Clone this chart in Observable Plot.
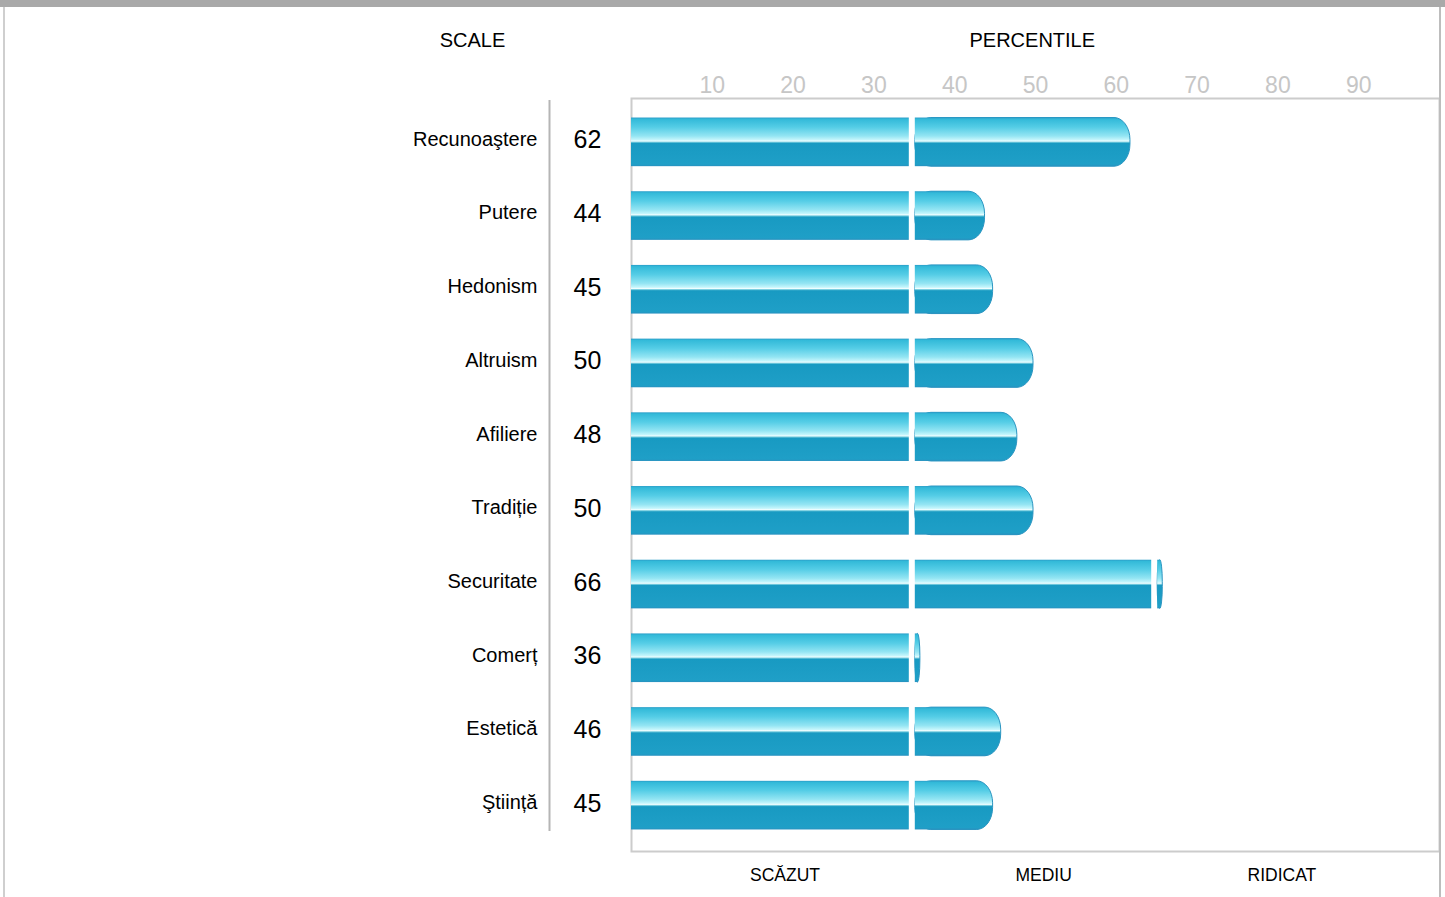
<!DOCTYPE html>
<html>
<head>
<meta charset="utf-8">
<script src="https://cdn.jsdelivr.net/npm/d3@7"></script>
<script src="https://cdn.jsdelivr.net/npm/@observablehq/plot@0.6"></script>
<style>
  html, body { margin: 0; padding: 0; background: #fff; }
  body { width: 1445px; height: 897px; position: relative; overflow: hidden; font-family: "Liberation Sans", Arial, Helvetica, sans-serif; }
  #chart { position: absolute; left: 0; top: 0; }
  .frame-top { position: absolute; left: 0; top: 0; width: 1445px; height: 7px; background: #a9a9a9; }
  .frame-left { position: absolute; left: 3px; top: 7px; width: 2px; height: 890px; background: #cfcfcf; }
  .frame-right { position: absolute; left: 1439px; top: 7px; width: 2px; height: 890px; background: #bdbdbd; }
</style>
</head>
<body>
<div id="chart"></div>
<div class="frame-top"></div>
<div class="frame-left"></div>
<div class="frame-right"></div>
<script>
// ---- data ----
const categories = ["Recunoaştere", "Putere", "Hedonism", "Altruism", "Afiliere", "Tradiție", "Securitate", "Comerț", "Estetică", "Ştiință"];
const percentiles = [62, 44, 45, 50, 48, 50, 66, 36, 46, 45];
const zoneBreaks = [0, 35, 65, 100];
const tickValues = [10, 20, 30, 40, 50, 60, 70, 80, 90];
const zoneLabels = ["SCĂZUT", "MEDIU", "RIDICAT"];
const zoneLabelCenters = [19, 51, 80.5];
const headerScale = "SCALE";
const headerPercentile = "PERCENTILE";

// ---- derived tables ----
const rows = categories.map((c, i) => ({cat: c, v: percentiles[i]}));
const segs = [];
rows.forEach(r => {
  for (let i = 0; i < zoneBreaks.length - 1; i++) {
    const s = zoneBreaks[i];
    const e = Math.min(r.v, zoneBreaks[i + 1]);
    if (e > s) segs.push({cat: r.cat, s, e, last: r.v <= zoneBreaks[i + 1]});
  }
});
const capUnits = 2;
const GRAD = "url(#barGrad)";

function segMarks(list, insetLeft) {
  const plain = list.filter(d => !d.last);
  const last = list.filter(d => d.last);
  return [
    Plot.barX(plain, {x1: "s", x2: "e", y: "cat", fill: GRAD, insetLeft, insetRight: 5}),
    Plot.barX(last, {x1: "s", x2: "e", y: "cat", fill: GRAD, stroke: "#2b95c1", strokeWidth: 1, rx: 16, ry: 22, insetLeft, insetRight: 2}),
    Plot.barX(last, {x1: "s", x2: d => Math.max((d.s + d.e) / 2, d.e - capUnits), y: "cat", fill: GRAD, insetLeft, insetRight: 0})
  ];
}

const font = "'Liberation Sans', Arial, Helvetica, sans-serif";

const chart = Plot.plot({
  width: 1445,
  height: 897,
  marginLeft: 631,
  marginRight: 6,
  marginTop: 98,
  marginBottom: 46,
  style: {fontFamily: font, background: "transparent"},
  x: {domain: [0, 100], axis: null},
  y: {domain: categories, range: [105, 842], paddingInner: 0.34, paddingOuter: 0.17, round: false, axis: null},
  marks: [
    Plot.frame({stroke: "#cccccc", strokeWidth: 2}),
    // tick labels (top)
    Plot.text(tickValues, {x: d => d, text: d => String(d), frameAnchor: "top", lineAnchor: "middle", dy: -13, fill: "#c6c6c6", fontSize: 23}),
    // headers
    Plot.text([headerPercentile], {x: 49.6, text: d => d, frameAnchor: "top", lineAnchor: "middle", textAnchor: "middle", dy: -58, fill: "#000", fontSize: 20}),
    Plot.text([headerScale], {text: d => d, frameAnchor: "top-left", lineAnchor: "middle", textAnchor: "middle", dx: -159, dy: -58, fill: "#000", fontSize: 20}),
    // separator line between labels and values
    Plot.ruleX([0], {dx: -82, stroke: "#b5b5b5", strokeWidth: 2, insetTop: 2, insetBottom: 20}),
    // category labels
    Plot.text(rows, {y: "cat", text: "cat", frameAnchor: "left", lineAnchor: "middle", dx: -94, dy: -3, textAnchor: "end", fill: "#000", fontSize: 20}),
    // values
    Plot.text(rows, {y: "cat", text: d => String(d.v), frameAnchor: "left", lineAnchor: "middle", dx: -44, dy: -2, textAnchor: "middle", fill: "#000", fontSize: 25}),
    // bars
    ...segMarks(segs.filter(d => d.s === 0), 0),
    ...segMarks(segs.filter(d => d.s !== 0), 1),
    // zone labels bottom
    Plot.text(zoneLabels, {x: (d, i) => zoneLabelCenters[i], text: d => d, frameAnchor: "bottom", lineAnchor: "middle", dy: 24, fill: "#000", fontSize: 17.5})
  ]
});

d3.select(chart).insert("defs", ":first-child").html(`
  <linearGradient id="barGrad" x1="0" y1="0" x2="0" y2="1">
    <stop offset="0" stop-color="#2a9dc8"/>
    <stop offset="0.035" stop-color="#33bad9"/>
    <stop offset="0.2" stop-color="#55cde6"/>
    <stop offset="0.38" stop-color="#94e5f3"/>
    <stop offset="0.46" stop-color="#c6f6fc"/>
    <stop offset="0.485" stop-color="#effeff"/>
    <stop offset="0.505" stop-color="#7ccfe0"/>
    <stop offset="0.53" stop-color="#189ac2"/>
    <stop offset="0.96" stop-color="#1f9fc7"/>
    <stop offset="1" stop-color="#2891bf"/>
  </linearGradient>`);

document.getElementById("chart").appendChild(chart);
</script>
</body>
</html>
